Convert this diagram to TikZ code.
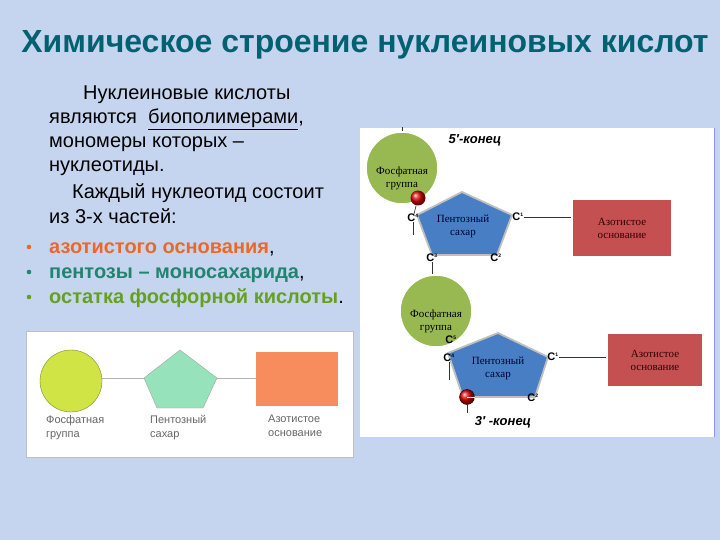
\documentclass[tikz,border=0pt]{standalone}
\usepackage{fontspec}
\setmainfont{Liberation Sans}
\newfontfamily\serifcyr{Liberation Serif}
\usetikzlibrary{positioning}
\definecolor{bgblue}{RGB}{197,213,240}
\definecolor{titleteal}{RGB}{0,98,112}
\definecolor{phosgreen}{RGB}{152,184,82}
\definecolor{sugarblue}{RGB}{72,126,196}
\definecolor{basered}{RGB}{196,80,82}
\definecolor{limegreen}{RGB}{208,228,70}
\definecolor{mintgreen}{RGB}{150,226,186}
\definecolor{salmon}{RGB}{247,140,92}
\definecolor{azorange}{RGB}{236,104,40}
\definecolor{pentteal}{RGB}{34,132,110}
\definecolor{phgreen}{RGB}{102,160,32}

\begin{document}
\begin{tikzpicture}[x=1pt, y=-1pt]
\tikzset{BodyText/.style = {anchor=base west, inner sep=0pt, font=\fontsize{20}{22}\selectfont}}
\tikzset{PhosStyle/.style = {circle, fill=phosgreen, draw=white, line width=1.5pt, minimum size=72pt, inner sep=0pt}}
\tikzset{LabelText/.style = {align=center, inner sep=0pt, font=\serifcyr\fontsize{11}{13}\selectfont}}
\tikzset{BaseStyle/.style = {rectangle, fill=basered, draw=white, line width=1.5pt, inner sep=0pt,
    text=black!80!red, align=center, font=\serifcyr\fontsize{11}{13}\selectfont}}
\tikzset{CStyle/.style = {inner sep=0pt, font=\bfseries\fontsize{11}{11}\selectfont}}
\tikzset{EndText/.style = {inner sep=0pt, font=\bfseries\itshape\fontsize{13}{13}\selectfont}}
\tikzset{KeyText/.style = {anchor=north west, align=left, inner sep=0pt, text=black!60, font=\fontsize{11}{14}\selectfont}}
\tikzset{BondStyle/.style = {draw=black!80, line width=0.7pt}}

\fill[bgblue] (0,0) rectangle (720,540);

\node[inner sep=0pt, text=titleteal, font=\bfseries\fontsize{32}{34}\selectfont] (title) at (365,45)
  {Химическое строение нуклеиновых кислот};

\node[BodyText] (t1) at (83,100) {Нуклеиновые кислоты};
\node[BodyText] (t2) at (49,124) {являются\ \ \underline{биополимерами},};
\node[BodyText] (t3) at (49,148) {мономеры которых –};
\node[BodyText] (t4) at (49,172) {нуклеотиды.};
\node[BodyText] (t5) at (72,199) {Каждый нуклеотид состоит};
\node[BodyText] (t6) at (49,223) {из 3-х частей:};
\node[BodyText] (b1) at (49,253) {\textcolor{azorange}{\bfseries азотистого основания},};
\node[BodyText] (b2) at (49,278) {\textcolor{pentteal}{\bfseries пентозы – моносахарида},};
\node[BodyText] (b3) at (49,303) {\textcolor{phgreen}{\bfseries остатка фосфорной кислоты}.};
\foreach \b/\c in {b1/azorange, b2/pentteal, b3/phgreen}
  \fill[\c] ([xshift=-20pt, yshift=6pt]\b.base west) circle (2.3pt);

% key
\filldraw[fill=white, draw=black!25] (26,331) rectangle (353,457);
\node[circle, fill=limegreen, draw=black!40!limegreen, minimum size=62pt, inner sep=0pt] (kphos) at (71,381) {};
\coordinate (kp1) at (180,350);
\coordinate (kp2) at (217,378);
\coordinate (kp3) at (203,408);
\coordinate (kp4) at (157,408);
\coordinate (kp5) at (144,378);
\filldraw[fill=mintgreen, draw=black!35] (kp1) -- (kp2) -- (kp3) -- (kp4) -- (kp5) -- cycle;
\node[rectangle, fill=salmon, minimum width=82pt, minimum height=54pt, inner sep=0pt] (kbase) at (297,379) {};
\draw[black!30] (kp5 -| kphos.east) -- (kp5);
\draw[black!30] (kp2) -- (kp2 -| kbase.west);
\node[KeyText] (kl1) at (46,415) {Фосфатная\\группа};
\node[KeyText] (kl2) at (150,415) {Пентозный\\сахар};
\node[KeyText] (kl3) at (268,415) {Азотистое\\основание};

% nucleotides
\fill[white] (360,128) rectangle (714,437);
\draw[bgblue!70!blue, line width=1pt] (714,128) -- (714,437);

\node[EndText] (end5) at (475,140) {5′-конец};
\node[PhosStyle] (phos1) at (402,168) {};
\node[LabelText] at ([yshift=-10pt]phos1.center) {Фосфатная\\группа};
\coordinate (s1a) at (462,192);
\coordinate (s1b) at (512,215);
\coordinate (s1c) at (497,255);
\coordinate (s1d) at (432,255);
\coordinate (s1e) at (417,215);
\draw[fill=sugarblue, draw=black!25, line width=1.8pt] (s1a) -- (s1b) -- (s1c) -- (s1d) -- (s1e) -- cycle;
\node[LabelText, text=black!80!blue] at (463,226) {Пентозный\\сахар};
\node[BaseStyle, minimum width=100pt, minimum height=57pt] (base1) at (622,228) {Азотистое\\основание};
\node[ball color=red!85!black, circle, inner sep=0pt, minimum size=15pt] (ball1) at (418,198) {};
\node[CStyle] (c4a) at (413,218) {C\textsuperscript{\tiny 4}};
\node[CStyle] (c1a) at (518,217) {C\textsuperscript{\tiny 1}};
\node[CStyle] (c3a) at (432,258) {C\textsuperscript{\tiny 3}};
\node[CStyle] (c2a) at (496,258) {C\textsuperscript{\tiny 2}};
\coordinate (c4tail) at (413,235);
\draw[BondStyle] (phos1.north) -- ++(0,-4);
\draw[BondStyle] (ball1) -- (c4a);
\draw[BondStyle] (c4a) -- (c4tail);
\draw[BondStyle] (c1a.east) -- (c1a.east -| base1.west);

\node[PhosStyle] (phos2) at (436,311) {};
\node[LabelText] at ([yshift=-10pt]phos2.center) {Фосфатная\\группа};
\draw[BondStyle] (c3a.south) -- (c3a.south |- phos2.north);
\coordinate (s2a) at (498,333);
\coordinate (s2b) at (548,357);
\coordinate (s2c) at (535,397);
\coordinate (s2d) at (463,397);
\coordinate (s2e) at (448,353);
\draw[fill=sugarblue, draw=black!25, line width=1.8pt] (s2a) -- (s2b) -- (s2c) -- (s2d) -- (s2e) -- cycle;
\node[LabelText, text=black!80!blue] at (498,368) {Пентозный\\сахар};
\node[BaseStyle, minimum width=96pt, minimum height=54pt] (base2) at (655,360) {Азотистое\\основание};
\node[CStyle] (c5b) at (451,340) {C\textsuperscript{\tiny 5}};
\node[CStyle] (c4b) at (449,358) {C\textsuperscript{\tiny 4}};
\node[CStyle] (c1b) at (553,357) {C\textsuperscript{\tiny 1}};
\node[CStyle] (c2b) at (533,398) {C\textsuperscript{\tiny 2}};
\node[ball color=red!85!black, circle, draw=black, inner sep=0pt, minimum size=15pt] (ball2) at (467,397) {};
\draw[white, line width=1pt] (ball2.center) -- (ball2.east);
\coordinate (c4btail) at (449,380);
\coordinate (ball2tail) at (467,413);
\draw[BondStyle] (c4b) -- (c4btail);
\draw[BondStyle] (c1b.east) -- (c1b.east -| base2.west);
\draw[BondStyle] (ball2) -- (ball2tail);
\node[EndText] (end3) at (503,422) {3′ -конец};
\end{tikzpicture}
\end{document}
